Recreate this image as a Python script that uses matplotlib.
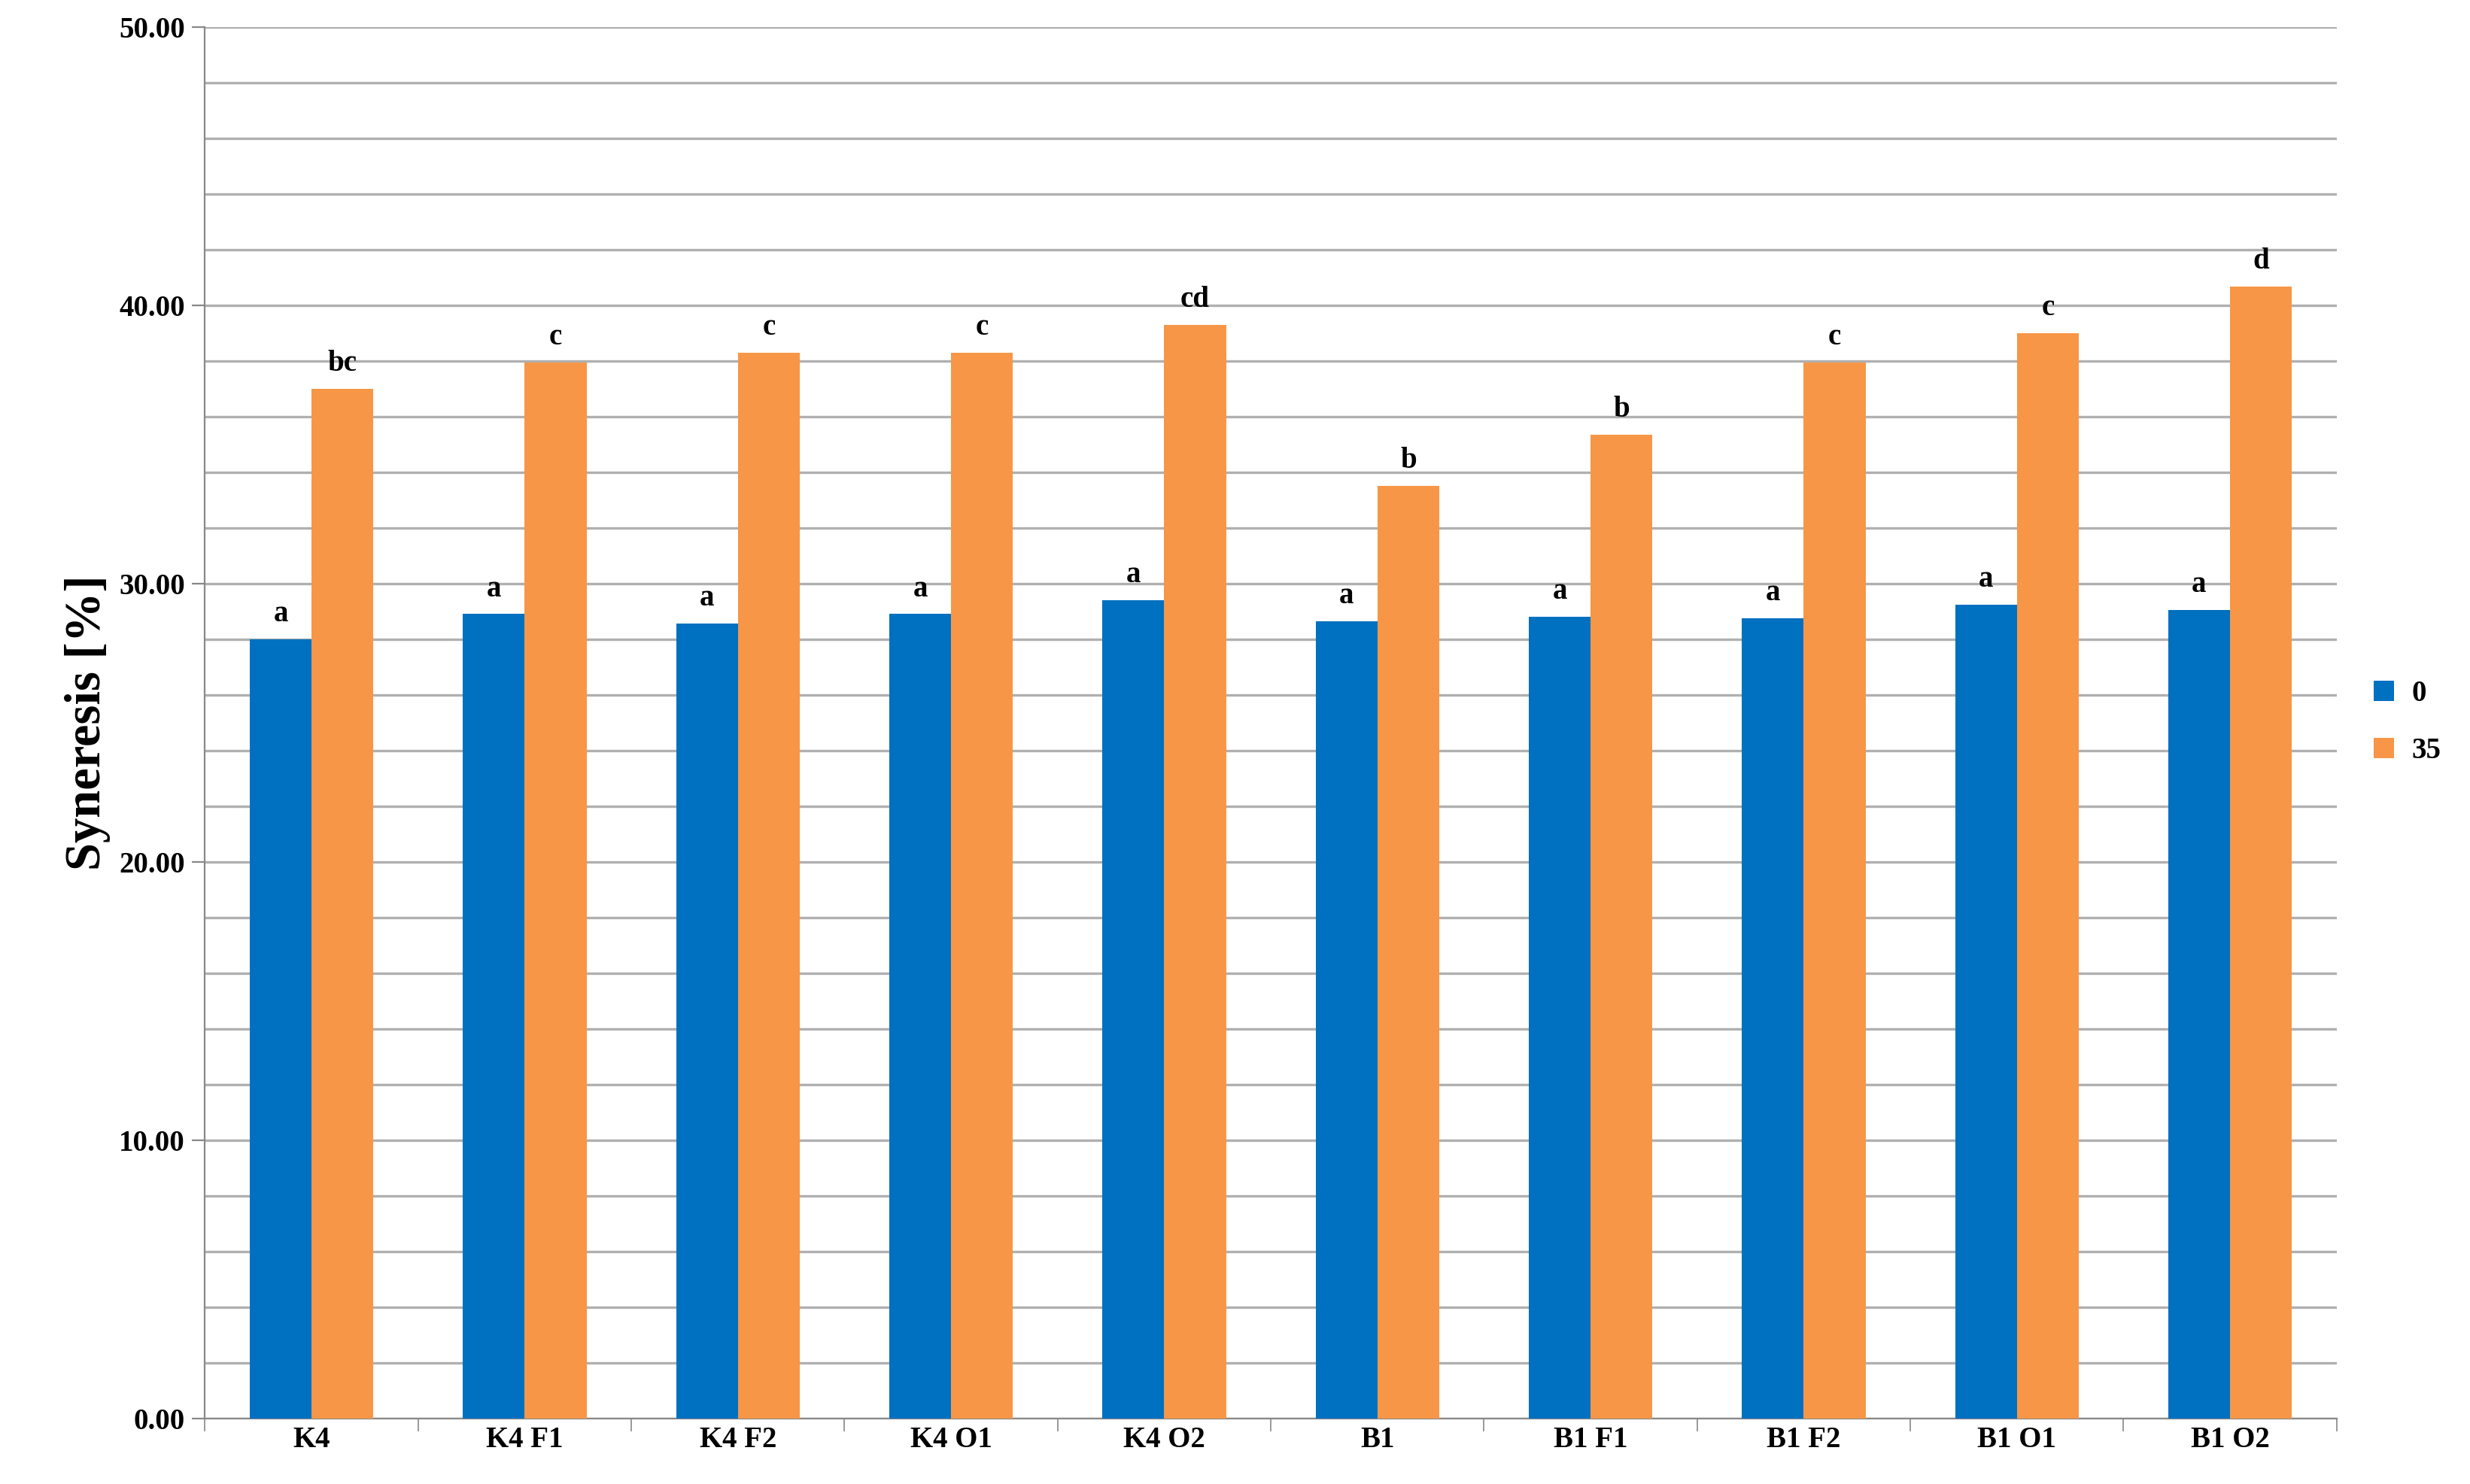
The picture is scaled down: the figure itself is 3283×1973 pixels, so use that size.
import numpy as np
import matplotlib.pyplot as plt

plt.rcParams['font.family'] = ['Liberation Serif', 'DejaVu Serif']
plt.rcParams['font.weight'] = 'bold'

categories = ["K4", "K4 F1", "K4 F2", "K4 O1", "K4 O2", "B1", "B1 F1", "B1 F2", "B1 O1", "B1 O2"]
day0 = [28.0, 28.9, 28.56, 28.9, 29.4, 28.65, 28.8, 28.75, 29.24, 29.05]
day35 = [37.0, 37.95, 38.3, 38.3, 39.3, 33.5, 35.35, 37.95, 39.0, 40.67]
letters0 = ["a"] * 10
letters35 = ["bc", "c", "c", "c", "cd", "b", "b", "c", "c", "d"]

fig = plt.figure(figsize=(16.415, 9.865), dpi=200)
ax = fig.add_axes([0.083, 0.044, 0.863, 0.938])

x = np.arange(len(categories))
w = 0.29
ax.bar(x - w / 2, day0, w, color="#0070C0", label="0", zorder=3)
ax.bar(x + w / 2, day35, w, color="#F79646", label="35", zorder=3)

for xi, v, t in zip(x, day0, letters0):
    ax.text(xi - w / 2, v + 0.4, t, ha="center", va="bottom", fontsize=14, fontweight="bold")
for xi, v, t in zip(x, day35, letters35):
    ax.text(xi + w / 2, v + 0.4, t, ha="center", va="bottom", fontsize=14, fontweight="bold")

ax.set_xlim(-0.5, len(categories) - 0.5)
ax.set_ylim(0, 50)
ax.set_yticks(np.arange(0, 51, 10))
ax.set_yticklabels([f"{v:.2f}" for v in np.arange(0, 51, 10)], fontsize=14, fontweight="bold")
ax.set_yticks(np.arange(0, 51, 2), minor=True)
ax.yaxis.grid(True, which="both", color="#b0b0b0", linewidth=1.2, zorder=0)
ax.tick_params(axis="y", which="minor", length=0)
ax.tick_params(axis="y", which="major", length=6, color="#888888")
ax.set_xticks(x)
ax.set_xticklabels(categories, fontsize=14, fontweight="bold")
ax.set_xticks(np.arange(-0.5, len(categories), 1), minor=True)
ax.tick_params(axis="x", which="major", length=0)
ax.tick_params(axis="x", which="minor", length=6, color="#888888")
for s in ["top", "right"]:
    ax.spines[s].set_visible(False)
ax.spines["left"].set_color("#888888")
ax.spines["bottom"].set_color("#888888")
ax.set_ylabel("Syneresis [%]", fontsize=24, fontweight="bold")

ax.legend(loc="center left", bbox_to_anchor=(1.005, 0.5), frameon=False,
          prop={"size": 14, "weight": "bold"}, handlelength=0.7, handleheight=0.7,
          labelspacing=1.0, handletextpad=0.6)

fig.savefig("out.png", dpi=200)
